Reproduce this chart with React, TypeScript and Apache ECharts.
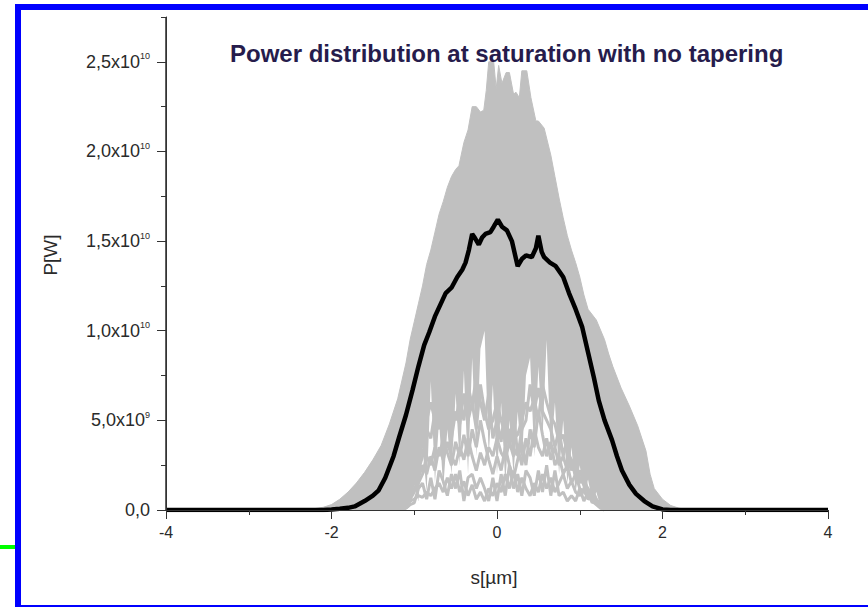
import React, { useEffect, useRef } from "react";
import * as echarts from "echarts";

// x positions (s in µm) and power values (in units of 1e10 W)
const envelopeS = [-4, -2.4, -2.3, -2.2, -2.1, -2.0, -1.9, -1.8, -1.7, -1.6, -1.5, -1.4, -1.3, -1.2, -1.1, -1.05, -1.0, -0.95, -0.9, -0.85, -0.8, -0.75, -0.7, -0.65, -0.6, -0.55, -0.5, -0.46, -0.4, -0.35, -0.3, -0.25, -0.2, -0.16, -0.13, -0.1, -0.04, -0.01, 0.02, 0.06, 0.11, 0.15, 0.2, 0.23, 0.27, 0.3, 0.36, 0.41, 0.47, 0.5, 0.57, 0.65, 0.7, 0.75, 0.8, 0.85, 0.9, 0.95, 1.0, 1.05, 1.1, 1.2, 1.3, 1.35, 1.4, 1.5, 1.6, 1.7, 1.8, 1.85, 1.9, 2.0, 2.1, 2.2, 2.3, 2.4, 4];
const envelopeP = [0, 0, 0.003, 0.008, 0.015, 0.03, 0.06, 0.1, 0.15, 0.21, 0.28, 0.36, 0.48, 0.62, 0.82, 0.95, 1.05, 1.15, 1.25, 1.37, 1.45, 1.55, 1.65, 1.72, 1.8, 1.86, 1.9, 1.92, 2.05, 2.12, 2.25, 2.25, 2.22, 2.23, 2.34, 2.5, 2.5, 2.35, 2.48, 2.38, 2.44, 2.44, 2.32, 2.33, 2.3, 2.45, 2.45, 2.3, 2.17, 2.17, 2.13, 1.98, 1.86, 1.74, 1.63, 1.53, 1.45, 1.38, 1.3, 1.2, 1.12, 1.06, 0.95, 0.87, 0.8, 0.68, 0.58, 0.47, 0.33, 0.2, 0.12, 0.06, 0.025, 0.01, 0.003, 0, 0];

const innerS = [-1.1, -1.05, -1.0, -0.95, -0.9, -0.85, -0.8, -0.75, -0.7, -0.65, -0.6, -0.55, -0.5, -0.45, -0.4, -0.35, -0.3, -0.25, -0.2, -0.15, -0.1, -0.05, 0, 0.05, 0.1, 0.15, 0.2, 0.25, 0.3, 0.35, 0.4, 0.45, 0.5, 0.55, 0.6, 0.65, 0.7, 0.75, 0.8, 0.85, 0.9, 0.95, 1.0, 1.05, 1.1, 1.15, 1.2, 1.25, 1.3];
const gapTopP = [0, 0.02, 0.15, 0.05, 0.35, 0.1, 0.72, 0.15, 0.5, 0.12, 0.45, 0.2, 0.65, 0.25, 0.78, 0.2, 0.85, 0.3, 0.9, 1.0, 0.3, 0.7, 0.2, 0.6, 0.15, 0.5, 0.2, 0.55, 0.25, 0.75, 0.85, 0.3, 0.8, 0.4, 0.95, 0.3, 0.6, 0.2, 0.5, 0.15, 0.35, 0.1, 0.25, 0.08, 0.17, 0.05, 0.1, 0.02, 0];
const traceA = [0.02, 0.05, 0.06, 0.08, 0.07, 0.1, 0.08, 0.12, 0.15, 0.1, 0.18, 0.12, 0.2, 0.1, 0.16, 0.08, 0.14, 0.06, 0.1, 0.05, 0.12, 0.08, 0.15, 0.1, 0.2, 0.12, 0.22, 0.1, 0.18, 0.12, 0.08, 0.15, 0.1, 0.2, 0.12, 0.18, 0.1, 0.15, 0.2, 0.12, 0.16, 0.1, 0.08, 0.12, 0.06, 0.08, 0.04, 0.02, 0];
const traceB = [0.03, 0.06, 0.1, 0.18, 0.25, 0.2, 0.3, 0.22, 0.35, 0.28, 0.38, 0.3, 0.25, 0.35, 0.28, 0.4, 0.3, 0.22, 0.32, 0.25, 0.35, 0.3, 0.4, 0.32, 0.28, 0.38, 0.3, 0.35, 0.25, 0.4, 0.3, 0.45, 0.35, 0.3, 0.4, 0.28, 0.35, 0.25, 0.3, 0.22, 0.28, 0.18, 0.22, 0.15, 0.12, 0.08, 0.05, 0.02, 0];
const traceC = [0.05, 0.1, 0.15, 0.22, 0.3, 0.45, 0.4, 0.55, 0.45, 0.6, 0.5, 0.4, 0.55, 0.48, 0.65, 0.5, 0.6, 0.45, 0.7, 0.55, 0.45, 0.5, 0.6, 0.5, 0.42, 0.45, 0.4, 0.42, 0.5, 0.6, 0.55, 0.62, 0.5, 0.7, 0.6, 0.52, 0.48, 0.38, 0.42, 0.32, 0.28, 0.22, 0.18, 0.14, 0.1, 0.07, 0.04, 0.02, 0];
const traceD = [0.04, 0.08, 0.12, 0.15, 0.2, 0.3, 0.25, 0.35, 0.3, 0.4, 0.32, 0.25, 0.38, 0.3, 0.42, 0.3, 0.45, 0.35, 0.5, 0.38, 0.28, 0.2, 0.3, 0.22, 0.35, 0.25, 0.18, 0.28, 0.38, 0.25, 0.45, 0.35, 0.55, 0.42, 0.3, 0.38, 0.25, 0.3, 0.2, 0.25, 0.15, 0.2, 0.12, 0.1, 0.08, 0.05, 0.03, 0.01, 0];
const traceE = [0.06, 0.12, 0.2, 0.3, 0.4, 0.5, 0.6, 0.5, 0.62, 0.55, 0.7, 0.58, 0.5, 0.62, 0.5, 0.7, 0.58, 0.75, 0.6, 0.5, 0.65, 0.4, 0.5, 0.38, 0.6, 0.35, 0.55, 0.3, 0.45, 0.5, 0.7, 0.55, 0.68, 0.55, 0.5, 0.45, 0.35, 0.45, 0.3, 0.4, 0.22, 0.3, 0.15, 0.2, 0.1, 0.12, 0.06, 0.03, 0];
const traceF = [0.01, 0.03, 0.04, 0.12, 0.15, 0.06, 0.18, 0.06, 0.22, 0.16, 0.08, 0.2, 0.12, 0.22, 0.05, 0.18, 0.2, 0.12, 0.18, 0.12, 0.05, 0.18, 0.05, 0.2, 0.08, 0.25, 0.12, 0.2, 0.08, 0.22, 0.18, 0.08, 0.22, 0.1, 0.25, 0.08, 0.22, 0.08, 0.1, 0.05, 0.08, 0.05, 0.12, 0.05, 0.1, 0.04, 0.06, 0.02, 0];

const meanS = [-4, -2.1, -2.0, -1.9, -1.8, -1.72, -1.6, -1.5, -1.43, -1.35, -1.25, -1.18, -1.1, -1.02, -0.95, -0.88, -0.82, -0.75, -0.68, -0.62, -0.55, -0.48, -0.42, -0.38, -0.34, -0.3, -0.27, -0.22, -0.18, -0.14, -0.08, -0.04, 0.01, 0.06, 0.12, 0.18, 0.22, 0.25, 0.3, 0.35, 0.42, 0.47, 0.5, 0.54, 0.57, 0.64, 0.71, 0.8, 0.87, 0.95, 1.03, 1.1, 1.17, 1.23, 1.3, 1.39, 1.45, 1.51, 1.6, 1.68, 1.78, 1.88, 2.0, 2.1, 4];
const meanP = [0, 0, 0.003, 0.007, 0.012, 0.02, 0.05, 0.08, 0.11, 0.18, 0.3, 0.41, 0.53, 0.67, 0.8, 0.92, 0.99, 1.08, 1.15, 1.21, 1.24, 1.3, 1.34, 1.38, 1.45, 1.54, 1.52, 1.48, 1.52, 1.54, 1.55, 1.58, 1.62, 1.58, 1.56, 1.5, 1.42, 1.36, 1.4, 1.42, 1.41, 1.46, 1.53, 1.44, 1.41, 1.38, 1.36, 1.3, 1.21, 1.12, 1.02, 0.88, 0.74, 0.61, 0.5, 0.39, 0.3, 0.22, 0.14, 0.09, 0.05, 0.02, 0.003, 0, 0];

const yMajorTicks = [0, 0.5, 1.0, 1.5, 2.0, 2.5];
const yMinorTicks = [0.25, 0.75, 1.25, 1.75, 2.25, 2.75];
const X_MIN = -4;
const X_MAX = 4;
const Y_MAX = 2.75;
// the vertical axis line, expressed in data coordinates
const yAxisLineS = [X_MIN, X_MIN];
const yAxisLineP = [0, Y_MAX];

const TITLE = "Power distribution at saturation with no tapering";
const FONT = "'Liberation Sans', Arial, Helvetica, sans-serif";
const GRAY = "#c0c0c0";
const LABEL = "#2a2a2a";

const pairs = (xs: number[], ys: number[]) => xs.map((x, i) => [x, ys[i]]);

export default function App() {
  const ref = useRef<HTMLDivElement>(null);
  useEffect(() => {
    if (!ref.current) return;
    const chart = echarts.init(ref.current, null, { renderer: "svg" });
    const yFormatter = (v: number) => {
      if (Math.abs(v / 0.5 - Math.round(v / 0.5)) > 1e-6) return "";
      if (v === 0) return "{a|0,0}";
      const real = v * 1e10;
      const exp = Math.floor(Math.log10(real) + 1e-9);
      const mant = real / Math.pow(10, exp);
      return `{a|${mant.toFixed(1).replace(".", ",")}x10}{b|${exp}}`;
    };
    const traceSeries = [traceA, traceB, traceC, traceD, traceE, traceF].map((t, i) => ({
      type: "line",
      name: "shot" + i,
      data: pairs(innerS, t),
      showSymbol: false,
      z: 3,
      lineStyle: { color: GRAY, width: 3 },
    }));
    chart.setOption({
      animation: false,
      backgroundColor: "#ffffff",
      title: {
        text: TITLE,
        left: 225,
        top: 36,
        textStyle: { fontFamily: FONT, fontSize: 24, fontWeight: "bold", color: "#261c4c" },
      },
      grid: { left: 166, right: 40, top: 17, bottom: 97, containLabel: false },
      xAxis: {
        type: "value",
        min: X_MIN,
        max: X_MAX,
        interval: 2,
        z: 10,
        axisLine: { show: true, lineStyle: { color: "#333", width: 1 } },
        axisTick: { length: 9, lineStyle: { color: "#333" } },
        minorTick: { show: true, splitNumber: 2, length: 5, lineStyle: { color: "#333" } },
        splitLine: { show: false },
        axisLabel: { fontFamily: FONT, fontSize: 16, color: LABEL, margin: 14 },
      },
      yAxis: [
        {
          type: "value",
          min: 0,
          max: Y_MAX,
          interval: 0.5,
          position: "left",
          z: 10,
          axisLine: { show: true, onZero: false, lineStyle: { color: "#333", width: 1 } },
          axisTick: { show: true, length: 9, customValues: yMajorTicks, lineStyle: { color: "#333" } },
          splitLine: { show: false },
          axisLabel: {
            customValues: yMajorTicks,
            formatter: yFormatter,
            margin: 16,
            rich: {
              a: { fontFamily: FONT, fontSize: 18, color: LABEL },
              b: { fontFamily: FONT, fontSize: 9, color: LABEL, padding: [0, 0, 11, 0] },
            },
          },
        },
        {
          type: "value",
          min: 0,
          max: Y_MAX,
          interval: 0.25,
          position: "left",
          z: 10,
          axisLine: { show: false, onZero: false },
          axisTick: { show: true, length: 5, customValues: yMinorTicks, lineStyle: { color: "#333" } },
          splitLine: { show: false },
          axisLabel: { show: false },
        },
      ],
      series: [
        {
          type: "line",
          name: "envelope",
          data: pairs(envelopeS, envelopeP),
          showSymbol: false,
          z: 1,
          lineStyle: { color: GRAY, width: 1 },
          areaStyle: { color: GRAY, opacity: 1 },
        },
        {
          type: "line",
          name: "gaps",
          data: pairs(innerS, gapTopP),
          showSymbol: false,
          z: 2,
          lineStyle: { opacity: 0, width: 0 },
          areaStyle: { color: "#ffffff", opacity: 1 },
        },
        ...traceSeries,
        {
          type: "line",
          name: "mean",
          data: pairs(meanS, meanP),
          showSymbol: false,
          z: 4,
          lineStyle: { color: "#000000", width: 4.5 },
        },
        {
          type: "line",
          name: "yAxisLine",
          data: pairs(yAxisLineS, yAxisLineP),
          showSymbol: false,
          clip: false,
          silent: true,
          z: 6,
          lineStyle: { color: "#2b2b2b", width: 1.5 },
        },
      ],
      graphic: [
        { type: "rect", shape: { x: 15, y: 4, width: 853, height: 6 }, style: { fill: "#0000ff" }, z: 100 },
        { type: "rect", shape: { x: 15, y: 4, width: 6, height: 603 }, style: { fill: "#0000ff" }, z: 100 },
        { type: "rect", shape: { x: 15, y: 605, width: 853, height: 2 }, style: { fill: "#0000ff" }, z: 100 },
        { type: "rect", shape: { x: 0, y: 545, width: 15, height: 4 }, style: { fill: "#00ff00" }, z: 100 },
        {
          type: "text",
          x: 50,
          y: 255,
          rotation: Math.PI / 2,
          style: { text: "P[W]", fontFamily: FONT, fontSize: 19, fill: LABEL, align: "center", verticalAlign: "middle" },
          z: 100,
        },
        {
          type: "text",
          x: 494,
          y: 577,
          style: { text: "s[µm]", fontFamily: FONT, fontSize: 19, fill: LABEL, align: "center", verticalAlign: "middle" },
          z: 100,
        },
      ],
    });
    return () => chart.dispose();
  }, []);
  return (
    <div
      ref={ref}
      style={{ position: "fixed", left: 0, top: 0, width: 868, height: 607, background: "#fff" }}
    />
  );
}
